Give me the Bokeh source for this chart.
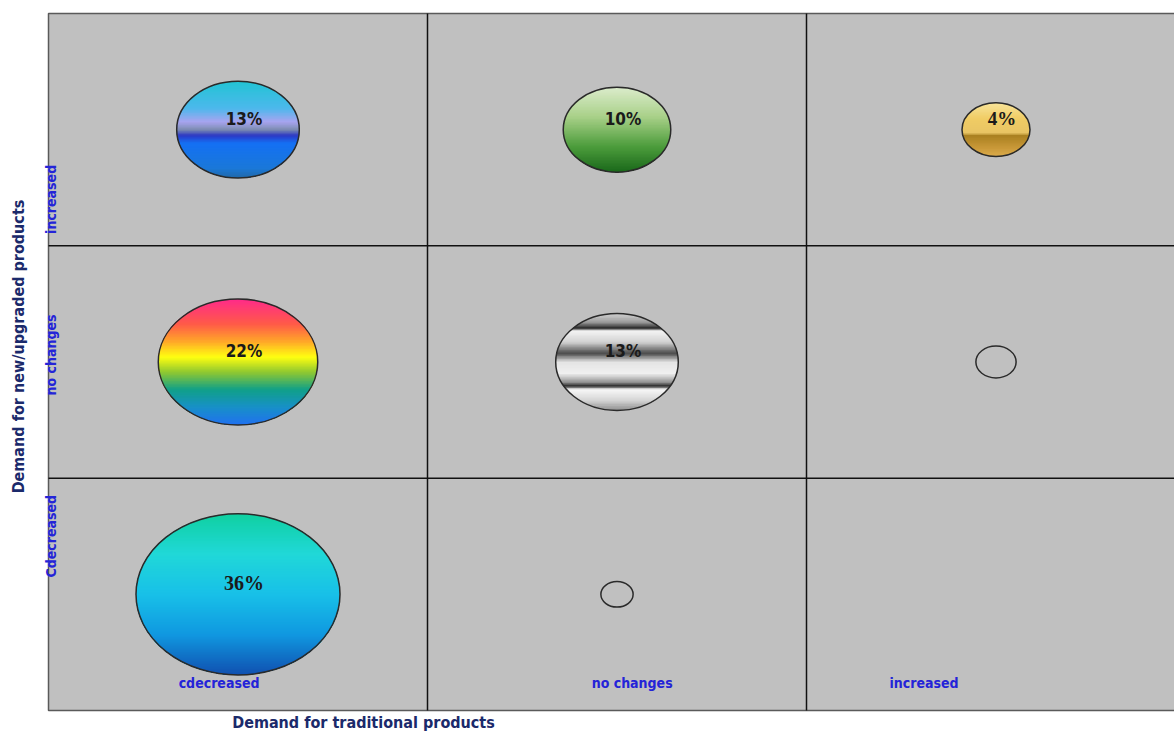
import numpy as np
from bokeh.plotting import figure
from bokeh.models import ColumnDataSource, Range1d
from bokeh.core.properties import value
from bokeh.embed import file_html
from bokeh.resources import INLINE

# ---------------- data ----------------
trad_categories = ["cdecreased", "no changes", "increased"]      # x axis (traditional products)
new_categories = ["Cdecreased", "no changes", "increased"]       # y axis (new/upgraded products)

bubble_trad = [0, 1, 2, 0, 1, 2, 0, 1]
bubble_new = [2, 2, 2, 1, 1, 1, 0, 0]
bubble_value = [13, 10, 4, 22, 13, 1.4, 36, 0.9]
bubble_label = ["13%", "10%", "4%", "22%", "13%", "", "36%", ""]

x_title = "Demand for traditional products"
y_title = "Demand for new/upgraded products"

# ---------------- styles ----------------
g_blue = [(0, "#22c4d4"), (0.28, "#4cb8ec"), (0.42, "#a8a4f0"), (0.5, "#7c8cb0"),
          (0.56, "#2c38c4"), (0.64, "#1470f4"), (0.9, "#1a78d8"), (1, "#2068a8")]
g_green = [(0, "#dceccc"), (0.35, "#a8d088"), (0.7, "#4c9c3c"), (1, "#1a681a")]
g_gold = [(0, "#f8e49a"), (0.3, "#f0cc64"), (0.57, "#e8c464"), (0.6, "#a88020"),
          (0.8, "#c49434"), (1, "#dcac4c")]
g_rainbow = [(0, "#ff2a8a"), (0.2, "#ff5a48"), (0.34, "#ffa828"), (0.46, "#ffff10"),
             (0.58, "#90c830"), (0.72, "#10a088"), (0.86, "#1890c8"), (1, "#2070f0")]
g_silver = [(0, "#d4d4d4"), (0.09, "#9a9a9a"), (0.15, "#282828"), (0.18, "#f4f4f4"),
            (0.3, "#d0d0d0"), (0.41, "#484848"), (0.5, "#e4e4e4"), (0.62, "#f0f0f0"),
            (0.71, "#909090"), (0.75, "#202020"), (0.78, "#f8f8f8"), (0.9, "#d4d4d4"),
            (1, "#8c8c8c")]
g_cyan = [(0, "#10d0a0"), (0.25, "#20d8d8"), (0.5, "#18c0e8"), (0.75, "#1098e0"), (1, "#1050b0")]
bubble_gradient = [g_blue, g_green, g_gold, g_rainbow, g_silver, None, g_cyan, None]
SANS = "DejaVu Sans Condensed"
SERIF = "Liberation Serif"
bubble_font = [SANS, SANS, SERIF, SANS, SANS, SANS, SERIF, SANS]
bubble_font_size = ["17px", "17px", "19px", "17px", "17px", "17px", "20px", "17px"]

x_label_shift = [-0.05, 0.04, -0.19]
y_label_pos = [0.75, 1.53, 2.2]

W, H = 1174, 734
LEFT, TOP, BOTTOM = 48, 13, 24
PX_X = 379.0
PX_Y = (H - TOP - BOTTOM) / 3.0


def hex2rgb(h):
    h = h.lstrip("#")
    return np.array([int(h[i:i + 2], 16) for i in (0, 2, 4)], dtype=float)


def grad_color(stops, t):
    for (p0, c0), (p1, c1) in zip(stops[:-1], stops[1:]):
        if p0 <= t <= p1:
            f = 0 if p1 == p0 else (t - p0) / (p1 - p0)
            c = hex2rgb(c0) * (1 - f) + hex2rgb(c1) * f
            return "#%02x%02x%02x" % tuple(int(round(v)) for v in c)
    return stops[-1][1]


p = figure(width=W, height=H,
           x_range=Range1d(-LEFT / PX_X, (W - LEFT) / PX_X),
           y_range=Range1d(-BOTTOM / PX_Y, 3 + TOP / PX_Y),
           x_axis_type=None, y_axis_type=None, toolbar_location=None, output_backend="svg",
           min_border=0)
p.background_fill_color = "white"
p.border_fill_color = "white"
p.outline_line_color = None
p.xgrid.visible = False
p.ygrid.visible = False

ncol, nrow = len(trad_categories), len(new_categories)
# plot area
p.quad(left=[0], right=[ncol], bottom=[0], top=[nrow], fill_color="#c0c0c0",
       line_color="#5a5a5a", line_width=1.5)
# cell boundaries
p.segment(x0=list(range(1, ncol)), y0=[0] * (ncol - 1), x1=list(range(1, ncol)), y1=[nrow] * (ncol - 1),
          line_color="#101010", line_width=1.5)
p.segment(x0=[0] * (nrow - 1), y0=list(range(1, nrow)), x1=[ncol] * (nrow - 1), y1=list(range(1, nrow)),
          line_color="#101010", line_width=1.5)

cx = [t + 0.5 for t in bubble_trad]
cy = [n + 0.5 for n in bubble_new]
w_px = [34.0 * np.sqrt(v) for v in bubble_value]
h_px = [0.79 * w for w in w_px]

xs, ys, cols = [], [], []
for x0, y0, w, h, g in zip(cx, cy, w_px, h_px, bubble_gradient):
    if g is None:
        continue
    a, b = w / 2.0, h / 2.0
    n = int(h / 1.5)
    for i in range(n):
        t0 = i / n
        yy0 = b - 2 * b * t0
        th0 = np.arcsin(np.clip(yy0 / b, -1, 1))
        th = np.linspace(th0, -np.pi / 2, 40)
        rx = a * np.cos(th)
        ry = b * np.sin(th)
        px_ = np.concatenate([rx, -rx[::-1]])
        py_ = np.concatenate([ry, ry[::-1]])
        xs.append(list(x0 + px_ / PX_X))
        ys.append(list(y0 + py_ / PX_Y))
        cols.append(grad_color(g, t0 + 0.5 / n))

p.patches(xs=xs, ys=ys, fill_color=cols, line_color=None)

src = ColumnDataSource(dict(x=cx, y=cy, w=w_px, h=h_px))
p.ellipse(x="x", y="y", width="w", height="h", width_units="screen", height_units="screen",
          source=src, fill_color=None, line_color="#2a2a2a", line_width=1.5)

lab = ColumnDataSource(dict(x=[c + 6 / PX_X for c in cx], y=[c + 11 / PX_Y for c in cy],
                            text=bubble_label, font=bubble_font, size=bubble_font_size))
p.text(x="x", y="y", text="text", source=lab, text_font="font", text_font_style="bold",
       text_font_size="size", text_color="#1a1a1a", text_align="center", text_baseline="middle")

# category labels inside the plot area
p.text(x=[i + 0.5 + s for i, s in enumerate(x_label_shift)], y=[28 / PX_Y] * ncol,
       text=trad_categories, text_align="center", text_baseline="middle",
       text_font=value(SANS), text_font_style="bold", text_font_size="14px", text_color="#2424d8")
p.text(x=[2 / PX_X] * nrow, y=y_label_pos, text=new_categories, angle=90, angle_units="deg",
       text_align="center", text_baseline="middle",
       text_font=value(SANS), text_font_style="bold", text_font_size="14px", text_color="#2424d8")

# axis titles
p.text(x=[315 / PX_X], y=[-12 / PX_Y], text=[x_title], text_align="center", text_baseline="middle",
       text_font=value(SANS), text_font_style="bold", text_font_size="16px", text_color="#1b2a6b")
p.text(x=[-30 / PX_X], y=[364 / PX_Y], text=[y_title], angle=90, angle_units="deg",
       text_align="center", text_baseline="middle",
       text_font=value(SANS), text_font_style="bold", text_font_size="16px", text_color="#1b2a6b")

open("out.html", "w").write(file_html(p, INLINE))
